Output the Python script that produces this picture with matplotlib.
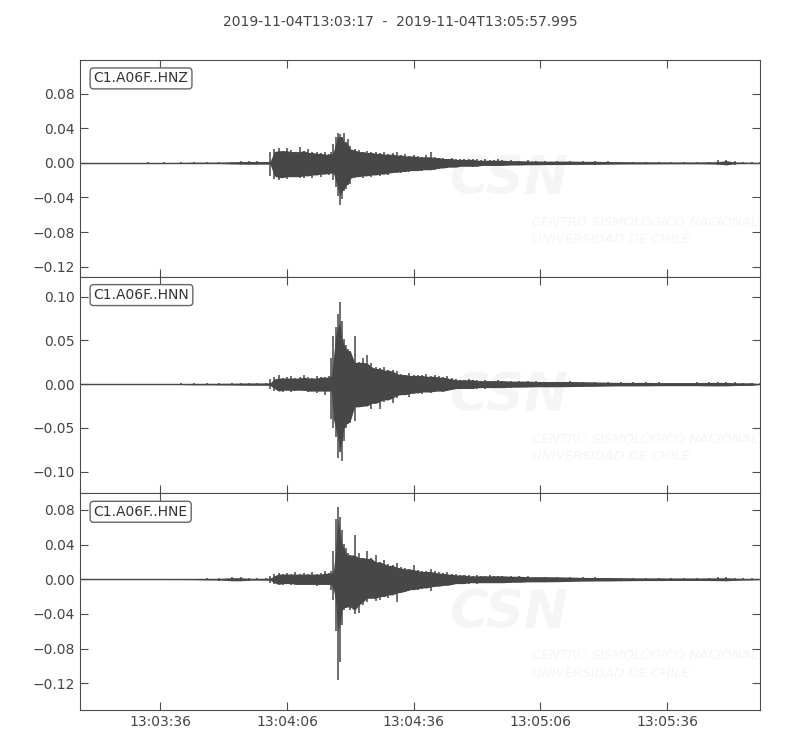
import datetime as dt

import matplotlib
matplotlib.use("Agg")
import matplotlib.dates as mdates
import matplotlib.pyplot as plt
import numpy as np

# ---------------------------------------------------------------------------
# envelope (max / min per time step) of each trace
# time in seconds after 2019-11-04T13:03:17
# ---------------------------------------------------------------------------
start = dt.datetime(2019, 11, 4, 13, 3, 17)
duration = 160.995

t_sec = [0, 4, 8, 12, 16, 20, 24, 27, 30, 33, 36, 38, 40, 42, 44,
         45, 46, 47, 48, 49, 50, 51, 52, 53, 54, 55, 56, 57, 58, 59,
         59.5, 60, 60.5, 61, 61.5, 62, 62.5, 63, 63.5, 64,
         65, 66, 67, 68, 69, 70, 71, 72, 73, 74, 75, 76, 77, 78, 79,
         80, 81, 82, 83, 84, 85, 86, 87, 88, 89, 90, 91, 92, 93, 94,
         95, 96, 97, 98, 99, 100,
         102, 104, 106, 108, 110, 113, 116, 119, 122, 125, 128, 131, 134,
         137, 140, 143, 146, 149, 151, 153, 155, 157, 159, 161]

hnz_max = [0.0003, 0.0003, 0.0003, 0.0003, 0.0004, 0.0005, 0.0008, 0.0009, 0.0008, 0.0012, 0.0015, 0.0018, 0.0016, 0.0019, 0.0015,
           0.013, 0.016, 0.017, 0.014, 0.017, 0.015, 0.013, 0.018, 0.014, 0.016, 0.012, 0.013, 0.011, 0.012, 0.010,
           0.013, 0.022, 0.030, 0.034, 0.033, 0.030, 0.034, 0.024, 0.027, 0.020,
           0.016, 0.015, 0.013, 0.014, 0.012, 0.013, 0.011, 0.012, 0.010, 0.011, 0.012, 0.009, 0.010, 0.008, 0.009,
           0.008, 0.007, 0.009, 0.012, 0.007, 0.006, 0.006, 0.005, 0.006, 0.005, 0.004, 0.004, 0.005, 0.004, 0.004,
           0.003, 0.004, 0.003, 0.003, 0.004, 0.003,
           0.003, 0.0025, 0.003, 0.0022, 0.0025, 0.002, 0.0022, 0.002, 0.0018, 0.002, 0.0015, 0.0014, 0.0012,
           0.0012, 0.0011, 0.001, 0.0012, 0.0014, 0.003, 0.0032, 0.0025, 0.001, 0.0008, 0.0007]
hnz_min = [-0.0003, -0.0003, -0.0003, -0.0003, -0.0004, -0.0005, -0.0008, -0.0009, -0.0008, -0.0012, -0.0015, -0.0018, -0.0016, -0.0019, -0.0015,
           -0.015, -0.019, -0.020, -0.017, -0.019, -0.016, -0.016, -0.017, -0.018, -0.015, -0.017, -0.014, -0.016, -0.013, -0.014,
           -0.012, -0.020, -0.028, -0.038, -0.049, -0.042, -0.033, -0.030, -0.026, -0.024,
           -0.018, -0.016, -0.017, -0.015, -0.016, -0.014, -0.015, -0.013, -0.014, -0.012, -0.011, -0.012, -0.010, -0.011, -0.009,
           -0.010, -0.009, -0.008, -0.008, -0.008, -0.007, -0.006, -0.006, -0.005, -0.005, -0.005, -0.004, -0.004, -0.005, -0.004,
           -0.004, -0.003, -0.004, -0.003, -0.003, -0.003,
           -0.003, -0.0025, -0.0028, -0.0022, -0.0024, -0.002, -0.002, -0.0018, -0.002, -0.0017, -0.0015, -0.0013, -0.0012,
           -0.0012, -0.0011, -0.001, -0.0012, -0.0014, -0.0028, -0.003, -0.0024, -0.001, -0.0008, -0.0007]

hnn_max = [0.0003, 0.0003, 0.0003, 0.0003, 0.0004, 0.0005, 0.0008, 0.0008, 0.0009, 0.0010, 0.0012, 0.0015, 0.0014, 0.0013, 0.0015,
           0.006, 0.008, 0.010, 0.007, 0.008, 0.009, 0.007, 0.008, 0.010, 0.008, 0.007, 0.009, 0.008, 0.008, 0.009,
           0.030, 0.055, 0.065, 0.080, 0.094, 0.072, 0.052, 0.045, 0.040, 0.038,
           0.055, 0.025, 0.030, 0.033, 0.024, 0.020, 0.018, 0.020, 0.016, 0.016, 0.015, 0.012, 0.011, 0.013, 0.010,
           0.011, 0.010, 0.012, 0.009, 0.010, 0.009, 0.008, 0.009, 0.007, 0.006, 0.005, 0.005, 0.006, 0.005, 0.005,
           0.004, 0.005, 0.004, 0.004, 0.005, 0.004,
           0.004, 0.0035, 0.004, 0.0035, 0.003, 0.003, 0.0032, 0.003, 0.0028, 0.0025, 0.0022, 0.002, 0.002,
           0.002, 0.0018, 0.0018, 0.002, 0.002, 0.0025, 0.0025, 0.002, 0.0016, 0.0015, 0.0015]
hnn_min = [-0.0003, -0.0003, -0.0003, -0.0003, -0.0004, -0.0005, -0.0008, -0.0008, -0.0009, -0.0010, -0.0012, -0.0015, -0.0014, -0.0013, -0.0015,
           -0.005, -0.008, -0.008, -0.009, -0.007, -0.009, -0.008, -0.007, -0.008, -0.009, -0.008, -0.010, -0.008, -0.012, -0.008,
           -0.040, -0.050, -0.060, -0.085, -0.078, -0.088, -0.065, -0.050, -0.046, -0.044,
           -0.042, -0.026, -0.026, -0.025, -0.028, -0.022, -0.028, -0.020, -0.018, -0.022, -0.016, -0.013, -0.012, -0.015, -0.011,
           -0.010, -0.011, -0.009, -0.010, -0.009, -0.008, -0.009, -0.008, -0.007, -0.006, -0.005, -0.005, -0.006, -0.005, -0.005,
           -0.004, -0.005, -0.004, -0.004, -0.004, -0.004,
           -0.004, -0.0035, -0.0038, -0.0033, -0.003, -0.003, -0.003, -0.0028, -0.0026, -0.0025, -0.0022, -0.002, -0.002,
           -0.002, -0.0018, -0.0018, -0.002, -0.002, -0.0025, -0.0025, -0.002, -0.0016, -0.0015, -0.0015]

hne_max = [0.0003, 0.0003, 0.0006, 0.0003, 0.0003, 0.0004, 0.0005, 0.0008, 0.0009, 0.0018, 0.0022, 0.0025, 0.0018, 0.0010, 0.0012,
           0.004, 0.006, 0.007, 0.006, 0.007, 0.006, 0.008, 0.006, 0.007, 0.006, 0.008, 0.006, 0.007, 0.009, 0.007,
           0.010, 0.033, 0.070, 0.083, 0.072, 0.057, 0.041, 0.036, 0.030, 0.028,
           0.051, 0.030, 0.025, 0.033, 0.024, 0.028, 0.020, 0.022, 0.018, 0.016, 0.019, 0.014, 0.013, 0.012, 0.016,
           0.011, 0.010, 0.009, 0.012, 0.009, 0.008, 0.007, 0.008, 0.006, 0.006, 0.005, 0.005, 0.005, 0.004, 0.005,
           0.004, 0.004, 0.005, 0.004, 0.004, 0.004,
           0.004, 0.0035, 0.0035, 0.003, 0.003, 0.003, 0.0028, 0.0025, 0.0022, 0.002, 0.002, 0.0018, 0.0016,
           0.0015, 0.0015, 0.0014, 0.0015, 0.0016, 0.0022, 0.0024, 0.0018, 0.0012, 0.001, 0.0008]
hne_min = [-0.0003, -0.0003, -0.0006, -0.0003, -0.0003, -0.0004, -0.0005, -0.0008, -0.0009, -0.0018, -0.0022, -0.0025, -0.0018, -0.0010, -0.0012,
           -0.004, -0.006, -0.006, -0.007, -0.005, -0.007, -0.006, -0.007, -0.006, -0.007, -0.006, -0.008, -0.006, -0.007, -0.006,
           -0.012, -0.024, -0.060, -0.116, -0.095, -0.053, -0.036, -0.033, -0.032, -0.036,
           -0.040, -0.039, -0.030, -0.026, -0.022, -0.025, -0.024, -0.020, -0.022, -0.018, -0.026, -0.016, -0.015, -0.014, -0.012,
           -0.012, -0.011, -0.010, -0.013, -0.009, -0.008, -0.008, -0.007, -0.007, -0.006, -0.005, -0.005, -0.005, -0.004, -0.005,
           -0.004, -0.004, -0.004, -0.004, -0.004, -0.004,
           -0.004, -0.0035, -0.0035, -0.003, -0.003, -0.003, -0.0028, -0.0025, -0.0022, -0.002, -0.002, -0.0018, -0.0016,
           -0.0015, -0.0015, -0.0014, -0.0015, -0.0016, -0.0022, -0.0024, -0.0018, -0.0012, -0.001, -0.0008]

channels = ["C1.A06F..HNZ", "C1.A06F..HNN", "C1.A06F..HNE"]
envelopes = [(hnz_min, hnz_max), (hnn_min, hnn_max), (hne_min, hne_max)]
ylims = [(-0.1314, 0.1187), (-0.125, 0.123), (-0.151, 0.0992)]
yticks = [[-0.12, -0.08, -0.04, 0.0, 0.04, 0.08],
          [-0.10, -0.05, 0.0, 0.05, 0.10],
          [-0.12, -0.08, -0.04, 0.0, 0.04, 0.08]]

trace_color = "#474747"
grey = "#4d4d4d"
mark_color = "#f5f5f5"

times = np.array([start + dt.timedelta(seconds=s) for s in t_sec])


def fmt_amp(v, pos):
    return f"{v:.2f}".replace("-", "\u2212")


fig, axes = plt.subplots(3, 1, figsize=(8, 7.5), dpi=100, sharex=True)
fig.subplots_adjust(left=0.1, right=0.95, top=0.92, bottom=0.0533, hspace=0)

for ax, name, (lo, hi), lim, ticks in zip(axes, channels, envelopes, ylims, yticks):
    lo = np.array(lo)
    hi = np.array(hi)

    # solid core of the trace: the band shared by neighbouring samples
    core_hi = np.minimum(hi, np.minimum(np.roll(hi, 1), np.roll(hi, -1)))
    core_lo = np.maximum(lo, np.maximum(np.roll(lo, 1), np.roll(lo, -1)))
    ax.fill_between(times, core_lo, core_hi, color=trace_color, lw=0)

    # min / max of each step
    ax.vlines(times, lo, hi, color=trace_color, lw=1.1)
    ax.plot(times, np.zeros(len(times)), color=trace_color, lw=1.0)

    # faint station watermark
    ax.text(0.63, 0.45, "CSN", transform=ax.transAxes, ha="center", va="center",
            fontsize=38, fontweight="bold", style="italic", color=mark_color,
            zorder=0, clip_on=True)
    ax.text(0.665, 0.21, "CENTRO SISMOLÓGICO NACIONAL\nUNIVERSIDAD DE CHILE",
            transform=ax.transAxes, ha="left", va="center", fontsize=9.5,
            style="italic", color=mark_color, linespacing=1.45, zorder=0,
            clip_on=True)

    ax.text(0.02, 0.915, name, transform=ax.transAxes, ha="left", va="center",
            fontsize=10, color="#333333",
            bbox=dict(boxstyle="round,pad=0.25", fc="white", ec="#666666", lw=1))

    ax.set_ylim(lim)
    ax.set_yticks(ticks)
    ax.yaxis.set_major_formatter(plt.FuncFormatter(fmt_amp))
    ax.tick_params(direction="in", top=True, right=True, length=6,
                   colors=grey, labelsize=10, labelcolor="#444444")
    for sp in ax.spines.values():
        sp.set_color(grey)

axes[-1].set_xlim(start, start + dt.timedelta(seconds=duration))
axes[-1].xaxis.set_major_locator(mdates.SecondLocator(bysecond=[6, 36]))
axes[-1].xaxis.set_major_formatter(mdates.DateFormatter("%H:%M:%S"))

fig.suptitle("2019-11-04T13:03:17  -  2019-11-04T13:05:57.995", y=0.98,
             fontsize=10, color="#444444")

fig.savefig("out.png", dpi=100)
